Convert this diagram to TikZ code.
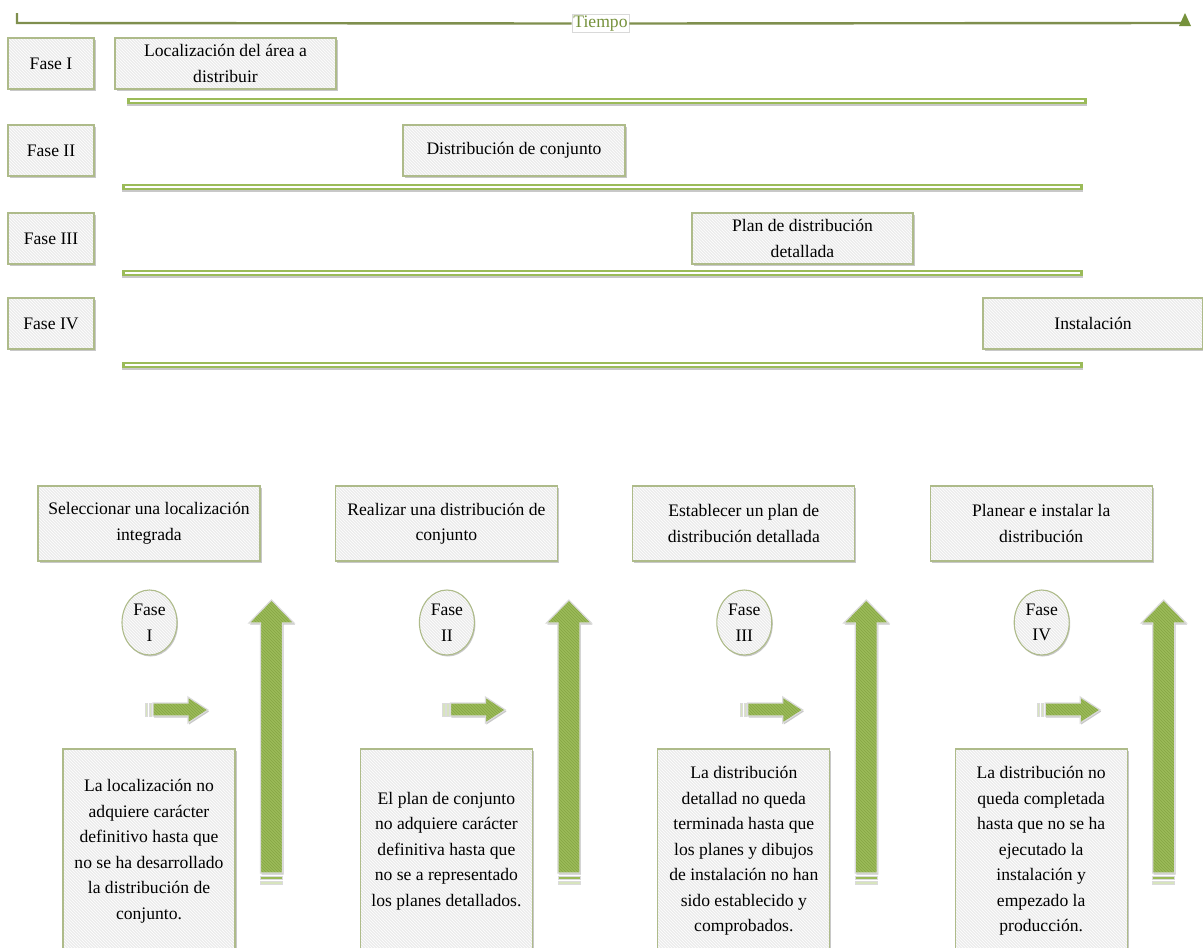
\documentclass[tikz,border=0pt]{standalone}
\usepackage{fontspec}
\setmainfont{Liberation Serif}
\usetikzlibrary{patterns,shadows,shapes.geometric}

\definecolor{accent}{HTML}{9BBB59}
\definecolor{accentdark}{HTML}{86A544}
\definecolor{accentlight}{HTML}{D7E4BD}
\definecolor{axisline}{HTML}{7F8F4E}
\definecolor{axistext}{HTML}{76923C}
\definecolor{panel}{HTML}{ECECEC}
\definecolor{panelborder}{HTML}{AEBB8A}
\definecolor{shade}{HTML}{C8C8C8}

\begin{document}
\begin{tikzpicture}[x=1pt,y=-1pt,
  every node/.style={font=\fontsize{17.6}{25.5}\selectfont},
  panelbox/.style={
    drop shadow={shadow xshift=1.5pt, shadow yshift=-2pt, fill=shade, opacity=1},
    preaction={fill=panel},
    preaction={pattern=north west lines, pattern color=white},
    draw=panelborder, line width=1.1pt,
    align=center, inner sep=2pt},
  phasebubble/.style={ellipse,
    drop shadow={shadow xshift=1pt, shadow yshift=-1.5pt, fill=shade, opacity=1},
    preaction={fill=panel},
    preaction={pattern=north west lines, pattern color=white},
    draw=panelborder, line width=1.1pt,
    align=center, inner sep=0pt, minimum width=55pt, minimum height=65pt},
  greenshape/.style={
    drop shadow={shadow xshift=1pt, shadow yshift=-1.5pt, fill=shade, opacity=1},
    preaction={fill=accent},
    preaction={pattern=north west lines, pattern color=accentdark},
    draw=white!86!black, line width=1.2pt},
  stripe/.style={draw=white!86!black, line width=0.6pt},
  phasebar/.style={line width=6.5pt, draw=accent,
    preaction={draw=shade, line width=6.5pt, transform canvas={yshift=-2pt}},
    postaction={draw=white, line width=1.6pt, shorten >=3pt, shorten <=3pt}},
  axis/.style={draw=axisline, line width=2.4pt}
]
\useasboundingbox (0,0) rectangle (1203,948);

% time axis
\coordinate (tstart) at (17,23);
\coordinate (ttick) at (17,13);
\coordinate (tend) at (1184,23);
\node[draw=white!85!black, line width=0.5pt, fill=white, text=axistext, inner sep=1.5pt]
  (tiempo) at (600.5,23.5) {Tiempo};
\draw[axis] (ttick) -- (tstart) -- (tiempo.west);
\draw[axis] (tiempo.east) -- (tend);
\fill[axistext] (1179,26) -- (1185,13) -- (1191,26) -- cycle;

% phase rows with their activity boxes
\node[panelbox, minimum width=86pt, minimum height=51pt] (fase1) at (51,63.5) {Fase I};
\node[panelbox, minimum width=86pt, minimum height=51pt] (fase2) at (51,150.5) {Fase II};
\node[panelbox, minimum width=86pt, minimum height=51pt] (fase3) at (51,238.5) {Fase III};
\node[panelbox, minimum width=86pt, minimum height=51pt] (fase4) at (51,323.5) {Fase IV};

\node[panelbox, minimum width=221pt, minimum height=51pt] (act1) at (225.5,63.5)
  {Localización del área a\\distribuir};
\node[panelbox, minimum width=222pt, minimum height=51pt] (act2) at (514,150.5)
  {Distribución de conjunto};
\node[panelbox, minimum width=221pt, minimum height=51pt] (act3) at (802.5,238.5)
  {Plan de distribución\\detallada};
\node[panelbox, minimum width=220pt, minimum height=51pt] (act4) at (1093,323.5)
  {Instalación};

% duration bars
\coordinate (b1a) at (127,101);  \coordinate (b1b) at (1087,101);
\coordinate (b2a) at (122,187);  \coordinate (b2b) at (1083,187);
\coordinate (b3a) at (122,273);  \coordinate (b3b) at (1083,273);
\coordinate (b4a) at (122,365);  \coordinate (b4b) at (1083,365);
\draw[phasebar] (b1a) -- (b1b);
\draw[phasebar] (b2a) -- (b2b);
\draw[phasebar] (b3a) -- (b3b);
\draw[phasebar] (b4a) -- (b4b);

% four phase columns
\foreach \k/\goal/\ph/\note in {
  0/{Seleccionar una localización\\integrada}/{I}/{La localización no\\adquiere carácter\\definitivo hasta que\\no se ha desarrollado\\la distribución de\\conjunto.},
  1/{Realizar una distribución de\\conjunto}/{II}/{El plan de conjunto\\no adquiere carácter\\definitiva hasta que\\no se a representado\\los planes detallados.},
  2/{Establecer un plan de\\distribución detallada}/{III}/{La distribución\\detallad no queda\\terminada hasta que\\los planes y dibujos\\de instalación no han\\sido establecido y\\comprobados.},
  3/{Planear e instalar la\\distribución}/{IV}/{La distribución no\\queda completada\\hasta que no se ha\\ejecutado la\\instalación y\\empezado la\\producción.}} {
  \begin{scope}[xshift=297.4*\k pt]
    \node[panelbox, minimum width=222pt, minimum height=75pt] (goal\k) at (149,523.5) {\goal};
    \node[phasebubble] (bubble\k) at (149.5,622.5) {Fase\\\ph};
    \node[panelbox, minimum width=172pt, minimum height=204pt] (note\k) at (149,851) {\note};
    % small forward arrow
    \fill[accentlight, stripe] (145,703) rectangle (147.5,716);
    \fill[accentlight, stripe] (149,703) rectangle (151.5,716);
    \path[greenshape] (153,703) -- (188,703) -- (188,697) -- (208,710)
      -- (188,723) -- (188,716) -- (153,716) -- cycle;
    % tall upward arrow
    \path[greenshape] (271.5,600) -- (294,623) -- (282.5,623) -- (282.5,873)
      -- (260.5,873) -- (260.5,623) -- (249,623) -- cycle;
    \fill[accent, stripe] (260.5,876) rectangle (282.5,879);
    \fill[accentlight, stripe] (260.5,881) rectangle (282.5,884.5);
  \end{scope}
}
\end{tikzpicture}
\end{document}
